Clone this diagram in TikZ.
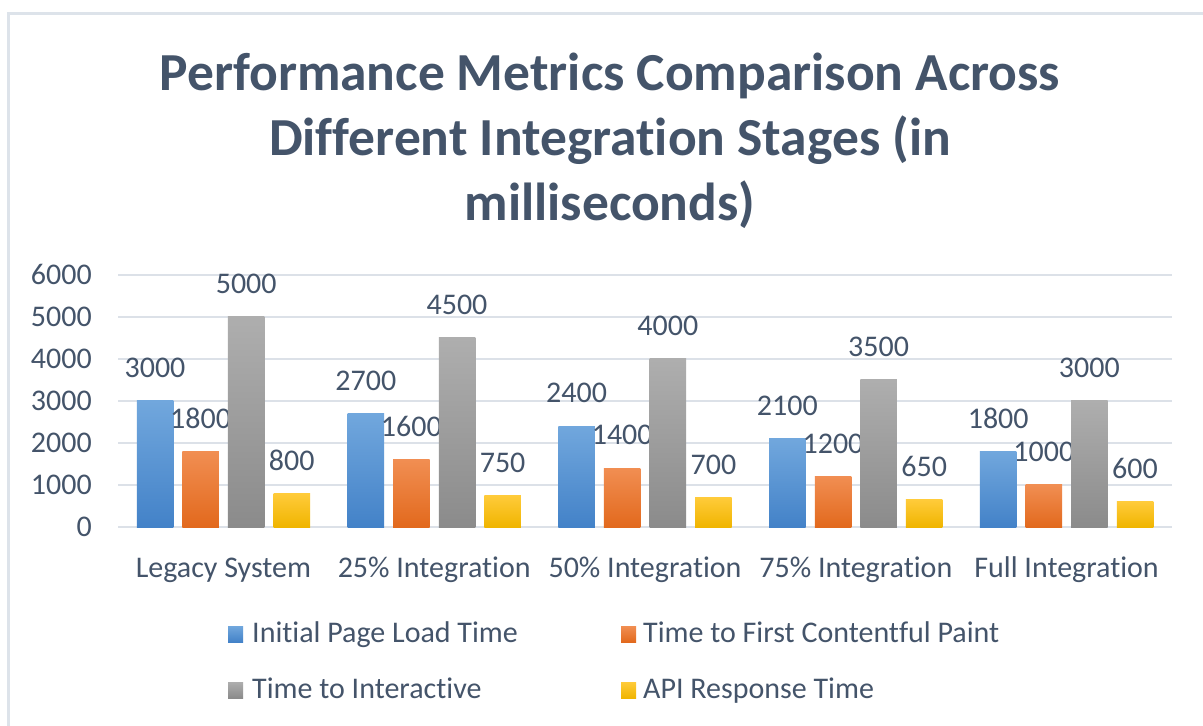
\documentclass[tikz,border=0pt]{standalone}
\usepackage{fontspec}
\setmainfont{Carlito}[Ligatures=NoCommon]
\usetikzlibrary{positioning}

\definecolor{slate}{HTML}{44546A}
\definecolor{gridc}{HTML}{DCE1E8}
\definecolor{framec}{HTML}{DDE3EA}
\definecolor{blueT}{HTML}{71A7DD}
\definecolor{blueB}{HTML}{4382C8}
\definecolor{orngT}{HTML}{F18E52}
\definecolor{orngB}{HTML}{E2691D}
\definecolor{grayT}{HTML}{AEAEAE}
\definecolor{grayB}{HTML}{8B8B8B}
\definecolor{yellT}{HTML}{FFCB3A}
\definecolor{yellB}{HTML}{F0B500}

\begin{document}
\begin{tikzpicture}[x=1pt, y=-1pt,
  txt/.style={inner sep=0pt, text=slate, font=\fontsize{30}{30}\selectfont},
  legtxt/.style={inner sep=0pt, text=slate, font=\fontsize{30}{30}\selectfont, anchor=base west},
  ttl/.style={inner sep=0pt, text=slate, anchor=base, font=\bfseries\fontsize{53.5}{53.5}\selectfont}]
\useasboundingbox (0,0) rectangle (1203,726);
\fill[white] (0,0) rectangle (1203,726);
\draw[framec, line width=3pt] (8.5,13.5) rectangle (1220,740);
%Title
\node[ttl] (t1) at (610,90) {Performance Metrics Comparison Across};
\node[ttl] (t2) at (610,155) {Different Integration Stages (in};
\node[ttl] (t3) at (610,220) {milliseconds)};
%Grid and axis
\foreach \g [count=\j from 0] in {0,1000,...,6000} {
  \draw[gridc, line width=1.3pt] (118,527-42*\j) -- (1172,527-42*\j);
  \node[txt, anchor=base east] (ax\j) at (92,527-42*\j+9) {\g};
}
%Bars
\foreach \cat/\a/\b/\c/\d [count=\i from 0] in {Legacy System/3000/1800/5000/800,
    25\% Integration/2700/1600/4500/750, 50\% Integration/2400/1400/4000/700,
    75\% Integration/2100/1200/3500/650, Full Integration/1800/1000/3000/600} {
  \pgfmathsetmacro\cx{223.4+210.8*\i}
  \node[txt, anchor=base] (cat\i) at (\cx,577) {\cat};
  \foreach \v/\k/\cT/\cB in {\a/0/blueT/blueB, \b/1/orngT/orngB, \c/2/grayT/grayB, \d/3/yellT/yellB} {
    \pgfmathsetmacro\bx{\cx-68.4+45.6*\k}
    \pgfmathsetmacro\by{527-0.042*\v}
    \path[top color=\cT, bottom color=\cB] (\bx-18.25,527) rectangle (\bx+18.25,\by);
    \node[txt] (val\i\k) at (\bx,\by-33) {\v};
  }
}
%Legend
\path[top color=blueT, bottom color=blueB] (228,626) rectangle (243,642);
\node[legtxt] (l1) at (252,642) {Initial Page Load Time};
\path[top color=orngT, bottom color=orngB] (621,626) rectangle (636,642);
\node[legtxt] (l2) at (643,642) {Time to First Contentful Paint};
\path[top color=grayT, bottom color=grayB] (228,682) rectangle (243,698);
\node[legtxt] (l3) at (252,698) {Time to Interactive};
\path[top color=yellT, bottom color=yellB] (621,682) rectangle (636,698);
\node[legtxt] (l4) at (643,698) {API Response Time};
\end{tikzpicture}
\end{document}
